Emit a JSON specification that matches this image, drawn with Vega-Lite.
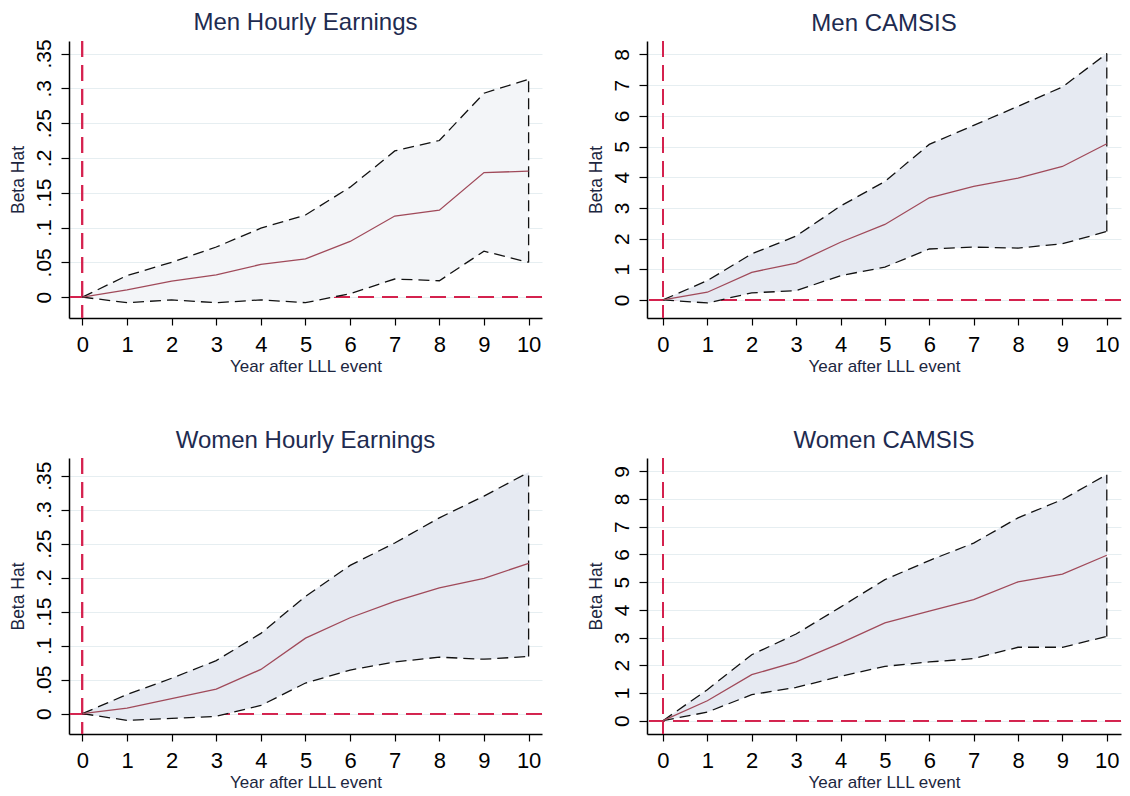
{
  "$schema": "https://vega.github.io/schema/vega-lite/v6.json",
  "padding": {"left": 9, "top": 10, "right": 5, "bottom": 5},
  "background": "white",
  "config": {
    "view": {"stroke": null},
    "font": "Liberation Sans",
    "axis": {"domainColor": "#000000", "tickColor": "#000000", "labelColor": "#000000", "titleColor": "#1c2640", "labelFont": "Liberation Sans", "titleFont": "Liberation Sans", "titleFontWeight": "normal", "domainWidth": 1.5, "tickWidth": 1.2, "labelOverlap": false, "labelSeparation": -60},
    "axisX": {"grid": false, "tickSize": 7, "labelFontSize": 22, "titleFontSize": 17, "labelPadding": 9, "titlePadding": 3, "labelOverlap": false, "labelSeparation": -60},
    "axisY": {"grid": true, "gridColor": "#e6eef1", "gridWidth": 1, "tickSize": 8, "labelAngle": -90, "labelAlign": "center", "labelBaseline": "bottom", "labelFontSize": 21, "titleFontSize": 17.5, "labelPadding": 7, "titlePadding": 6, "labelOverlap": false, "labelSeparation": -60},
    "title": {"font": "Liberation Sans", "fontSize": 24, "fontWeight": "normal", "color": "#1e2b50", "anchor": "middle", "offset": 4}
  },
  "datasets": {
    "mh": [
      {"year": 0, "b": 0, "lo": 0, "hi": 0},
      {"year": 1, "b": 0.0105, "lo": -0.008, "hi": 0.031},
      {"year": 2, "b": 0.023, "lo": -0.004, "hi": 0.050},
      {"year": 3, "b": 0.032, "lo": -0.008, "hi": 0.072},
      {"year": 4, "b": 0.047, "lo": -0.004, "hi": 0.099},
      {"year": 5, "b": 0.055, "lo": -0.008, "hi": 0.118},
      {"year": 6, "b": 0.080, "lo": 0.005, "hi": 0.158},
      {"year": 7, "b": 0.1165, "lo": 0.026, "hi": 0.210},
      {"year": 8, "b": 0.125, "lo": 0.0235, "hi": 0.225},
      {"year": 9, "b": 0.179, "lo": 0.066, "hi": 0.293},
      {"year": 10, "b": 0.181, "lo": 0.050, "hi": 0.313}
    ],
    "mc": [
      {"year": 0, "b": 0, "lo": 0, "hi": 0},
      {"year": 1, "b": 0.25, "lo": -0.10, "hi": 0.63},
      {"year": 2, "b": 0.90, "lo": 0.23, "hi": 1.50},
      {"year": 3, "b": 1.20, "lo": 0.30, "hi": 2.08},
      {"year": 4, "b": 1.88, "lo": 0.79, "hi": 3.06},
      {"year": 5, "b": 2.46, "lo": 1.07, "hi": 3.86},
      {"year": 6, "b": 3.33, "lo": 1.66, "hi": 5.07},
      {"year": 7, "b": 3.70, "lo": 1.72, "hi": 5.69},
      {"year": 8, "b": 3.97, "lo": 1.69, "hi": 6.31},
      {"year": 9, "b": 4.35, "lo": 1.83, "hi": 6.94},
      {"year": 10, "b": 5.09, "lo": 2.23, "hi": 8.03}
    ],
    "wh": [
      {"year": 0, "b": 0, "lo": 0, "hi": 0},
      {"year": 1, "b": 0.008, "lo": -0.010, "hi": 0.028},
      {"year": 2, "b": 0.022, "lo": -0.007, "hi": 0.052},
      {"year": 3, "b": 0.036, "lo": -0.004, "hi": 0.078},
      {"year": 4, "b": 0.065, "lo": 0.012, "hi": 0.118},
      {"year": 5, "b": 0.111, "lo": 0.045, "hi": 0.1725},
      {"year": 6, "b": 0.141, "lo": 0.064, "hi": 0.218},
      {"year": 7, "b": 0.165, "lo": 0.076, "hi": 0.251},
      {"year": 8, "b": 0.185, "lo": 0.083, "hi": 0.288},
      {"year": 9, "b": 0.199, "lo": 0.080, "hi": 0.320},
      {"year": 10, "b": 0.221, "lo": 0.084, "hi": 0.355}
    ],
    "wc": [
      {"year": 0, "b": 0, "lo": 0, "hi": 0},
      {"year": 1, "b": 0.72, "lo": 0.31, "hi": 1.12},
      {"year": 2, "b": 1.66, "lo": 0.94, "hi": 2.38},
      {"year": 3, "b": 2.12, "lo": 1.20, "hi": 3.13},
      {"year": 4, "b": 2.80, "lo": 1.60, "hi": 4.10},
      {"year": 5, "b": 3.53, "lo": 1.96, "hi": 5.09},
      {"year": 6, "b": 3.95, "lo": 2.12, "hi": 5.78},
      {"year": 7, "b": 4.37, "lo": 2.24, "hi": 6.41},
      {"year": 8, "b": 5.01, "lo": 2.65, "hi": 7.32},
      {"year": 9, "b": 5.29, "lo": 2.65, "hi": 7.98},
      {"year": 10, "b": 5.97, "lo": 3.04, "hi": 8.88}
    ]
  },
  "vconcat": [
    {
      "hconcat": [
        {
          "title": "Men Hourly Earnings",
          "width": 473, "height": 277,
          "data": {"name": "mh"},
          "layer": [
            {"mark": {"type": "area", "color": "#f3f5f8", "opacity": 1},
             "encoding": {
               "x": {"field": "year", "type": "quantitative", "title": "Year after LLL event", "scale": {"domain": [-0.3, 10.3], "nice": false, "zero": false}, "axis": {"values": [0,1,2,3,4,5,6,7,8,9,10], "labelOverlap": false}},
               "y": {"field": "lo", "type": "quantitative", "title": "Beta Hat", "scale": {"domain": [-0.03, 0.368], "nice": false, "zero": false},
                     "axis": {"values": [0, 0.05, 0.1, 0.15, 0.2, 0.25, 0.3, 0.35], "tickCount": 8, "labelOverlap": false, "labelSeparation": -60, "labelExpr": "datum.value == 0 ? '0' : replace(format(datum.value, '~g'), '0.', '.')"}},
               "y2": {"field": "hi"}
             }},
            {"mark": {"type": "rule", "color": "#d4224e", "strokeDash": [16, 8], "strokeWidth": 1.3}, "encoding": {"x": {"datum": 0, "type": "quantitative"}}},
            {"mark": {"type": "rule", "color": "#d4224e", "strokeDash": [16, 8], "strokeWidth": 1.3}, "encoding": {"y": {"datum": 0, "type": "quantitative"}}},
            {"mark": {"type": "area", "color": "#f3f5f8", "opacity": 1}, "encoding": {"x": {"field": "year", "type": "quantitative"}, "y": {"field": "lo", "type": "quantitative"}, "y2": {"field": "hi"}}},
            {"mark": {"type": "line", "color": "#111111", "strokeDash": [11, 6], "strokeWidth": 1.3}, "encoding": {"x": {"field": "year", "type": "quantitative"}, "y": {"field": "lo", "type": "quantitative"}}},
            {"mark": {"type": "line", "color": "#111111", "strokeDash": [11, 6], "strokeWidth": 1.3}, "encoding": {"x": {"field": "year", "type": "quantitative"}, "y": {"field": "hi", "type": "quantitative"}}},
            {"transform": [{"filter": "datum.year == 10"}], "mark": {"type": "rule", "color": "#111111", "strokeDash": [11, 6], "strokeWidth": 1.3}, "encoding": {"x": {"field": "year", "type": "quantitative"}, "y": {"field": "lo", "type": "quantitative"}, "y2": {"field": "hi"}}},
            {"mark": {"type": "line", "color": "#a04a5a", "strokeWidth": 1.3}, "encoding": {"x": {"field": "year", "type": "quantitative"}, "y": {"field": "b", "type": "quantitative"}}}
          ]
        },
        {
          "title": "Men CAMSIS",
          "width": 474, "height": 277,
          "data": {"name": "mc"},
          "layer": [
            {"mark": {"type": "area", "color": "#e6eaf2", "opacity": 1},
             "encoding": {
               "x": {"field": "year", "type": "quantitative", "title": "Year after LLL event", "scale": {"domain": [-0.36, 10.32], "nice": false, "zero": false}, "axis": {"values": [0,1,2,3,4,5,6,7,8,9,10], "labelOverlap": false}},
               "y": {"field": "lo", "type": "quantitative", "title": "Beta Hat", "scale": {"domain": [-0.59, 8.44], "nice": false, "zero": false},
                     "axis": {"values": [0,1,2,3,4,5,6,7,8], "tickCount": 9, "labelOverlap": false, "labelSeparation": -60}},
               "y2": {"field": "hi"}
             }},
            {"mark": {"type": "rule", "color": "#d4224e", "strokeDash": [16, 8], "strokeWidth": 1.3}, "encoding": {"x": {"datum": 0, "type": "quantitative"}}},
            {"mark": {"type": "rule", "color": "#d4224e", "strokeDash": [16, 8], "strokeWidth": 1.3}, "encoding": {"y": {"datum": 0, "type": "quantitative"}}},
            {"mark": {"type": "area", "color": "#e6eaf2", "opacity": 1}, "encoding": {"x": {"field": "year", "type": "quantitative"}, "y": {"field": "lo", "type": "quantitative"}, "y2": {"field": "hi"}}},
            {"mark": {"type": "line", "color": "#111111", "strokeDash": [11, 6], "strokeWidth": 1.3}, "encoding": {"x": {"field": "year", "type": "quantitative"}, "y": {"field": "lo", "type": "quantitative"}}},
            {"mark": {"type": "line", "color": "#111111", "strokeDash": [11, 6], "strokeWidth": 1.3}, "encoding": {"x": {"field": "year", "type": "quantitative"}, "y": {"field": "hi", "type": "quantitative"}}},
            {"transform": [{"filter": "datum.year == 10"}], "mark": {"type": "rule", "color": "#111111", "strokeDash": [11, 6], "strokeWidth": 1.3}, "encoding": {"x": {"field": "year", "type": "quantitative"}, "y": {"field": "lo", "type": "quantitative"}, "y2": {"field": "hi"}}},
            {"mark": {"type": "line", "color": "#a04a5a", "strokeWidth": 1.3}, "encoding": {"x": {"field": "year", "type": "quantitative"}, "y": {"field": "b", "type": "quantitative"}}}
          ]
        }
      ],
      "spacing": 44
    },
    {
      "hconcat": [
        {
          "title": "Women Hourly Earnings",
          "width": 473, "height": 276,
          "data": {"name": "wh"},
          "layer": [
            {"mark": {"type": "area", "color": "#e6eaf2", "opacity": 1},
             "encoding": {
               "x": {"field": "year", "type": "quantitative", "title": "Year after LLL event", "scale": {"domain": [-0.3, 10.3], "nice": false, "zero": false}, "axis": {"values": [0,1,2,3,4,5,6,7,8,9,10], "labelOverlap": false}},
               "y": {"field": "lo", "type": "quantitative", "title": "Beta Hat", "scale": {"domain": [-0.03, 0.376], "nice": false, "zero": false},
                     "axis": {"values": [0, 0.05, 0.1, 0.15, 0.2, 0.25, 0.3, 0.35], "tickCount": 8, "labelOverlap": false, "labelSeparation": -60, "labelExpr": "datum.value == 0 ? '0' : replace(format(datum.value, '~g'), '0.', '.')"}},
               "y2": {"field": "hi"}
             }},
            {"mark": {"type": "rule", "color": "#d4224e", "strokeDash": [16, 8], "strokeWidth": 1.3}, "encoding": {"x": {"datum": 0, "type": "quantitative"}}},
            {"mark": {"type": "rule", "color": "#d4224e", "strokeDash": [16, 8], "strokeWidth": 1.3}, "encoding": {"y": {"datum": 0, "type": "quantitative"}}},
            {"mark": {"type": "area", "color": "#e6eaf2", "opacity": 1}, "encoding": {"x": {"field": "year", "type": "quantitative"}, "y": {"field": "lo", "type": "quantitative"}, "y2": {"field": "hi"}}},
            {"mark": {"type": "line", "color": "#111111", "strokeDash": [11, 6], "strokeWidth": 1.3}, "encoding": {"x": {"field": "year", "type": "quantitative"}, "y": {"field": "lo", "type": "quantitative"}}},
            {"mark": {"type": "line", "color": "#111111", "strokeDash": [11, 6], "strokeWidth": 1.3}, "encoding": {"x": {"field": "year", "type": "quantitative"}, "y": {"field": "hi", "type": "quantitative"}}},
            {"transform": [{"filter": "datum.year == 10"}], "mark": {"type": "rule", "color": "#111111", "strokeDash": [11, 6], "strokeWidth": 1.3}, "encoding": {"x": {"field": "year", "type": "quantitative"}, "y": {"field": "lo", "type": "quantitative"}, "y2": {"field": "hi"}}},
            {"mark": {"type": "line", "color": "#a04a5a", "strokeWidth": 1.3}, "encoding": {"x": {"field": "year", "type": "quantitative"}, "y": {"field": "b", "type": "quantitative"}}}
          ]
        },
        {
          "title": "Women CAMSIS",
          "width": 474, "height": 276,
          "data": {"name": "wc"},
          "layer": [
            {"mark": {"type": "area", "color": "#e6eaf2", "opacity": 1},
             "encoding": {
               "x": {"field": "year", "type": "quantitative", "title": "Year after LLL event", "scale": {"domain": [-0.36, 10.32], "nice": false, "zero": false}, "axis": {"values": [0,1,2,3,4,5,6,7,8,9,10], "labelOverlap": false}},
               "y": {"field": "lo", "type": "quantitative", "title": "Beta Hat", "scale": {"domain": [-0.48, 9.48], "nice": false, "zero": false},
                     "axis": {"values": [0,1,2,3,4,5,6,7,8,9], "tickCount": 10, "labelOverlap": false, "labelSeparation": -60}},
               "y2": {"field": "hi"}
             }},
            {"mark": {"type": "rule", "color": "#d4224e", "strokeDash": [16, 8], "strokeWidth": 1.3}, "encoding": {"x": {"datum": 0, "type": "quantitative"}}},
            {"mark": {"type": "rule", "color": "#d4224e", "strokeDash": [16, 8], "strokeWidth": 1.3}, "encoding": {"y": {"datum": 0, "type": "quantitative"}}},
            {"mark": {"type": "area", "color": "#e6eaf2", "opacity": 1}, "encoding": {"x": {"field": "year", "type": "quantitative"}, "y": {"field": "lo", "type": "quantitative"}, "y2": {"field": "hi"}}},
            {"mark": {"type": "line", "color": "#111111", "strokeDash": [11, 6], "strokeWidth": 1.3}, "encoding": {"x": {"field": "year", "type": "quantitative"}, "y": {"field": "lo", "type": "quantitative"}}},
            {"mark": {"type": "line", "color": "#111111", "strokeDash": [11, 6], "strokeWidth": 1.3}, "encoding": {"x": {"field": "year", "type": "quantitative"}, "y": {"field": "hi", "type": "quantitative"}}},
            {"transform": [{"filter": "datum.year == 10"}], "mark": {"type": "rule", "color": "#111111", "strokeDash": [11, 6], "strokeWidth": 1.3}, "encoding": {"x": {"field": "year", "type": "quantitative"}, "y": {"field": "lo", "type": "quantitative"}, "y2": {"field": "hi"}}},
            {"mark": {"type": "line", "color": "#a04a5a", "strokeWidth": 1.3}, "encoding": {"x": {"field": "year", "type": "quantitative"}, "y": {"field": "b", "type": "quantitative"}}}
          ]
        }
      ],
      "spacing": 44
    }
  ],
  "spacing": 55
}
